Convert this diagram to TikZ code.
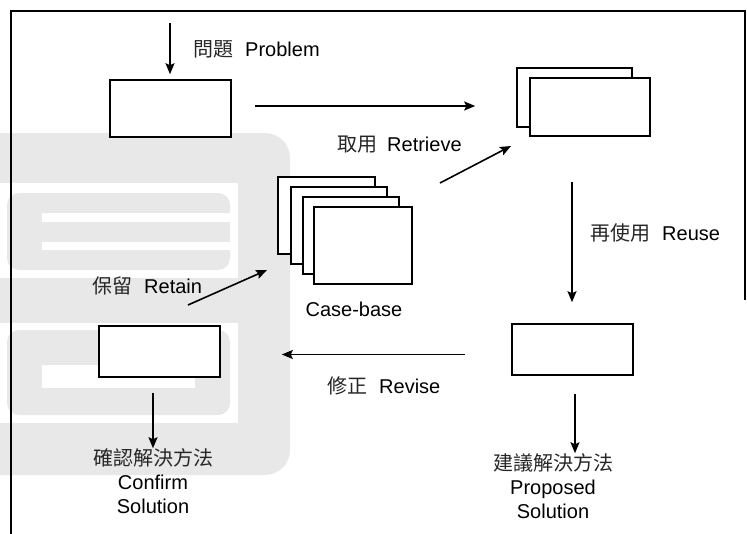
\documentclass[tikz,border=0pt]{standalone}
\usepackage{fontspec}
\setmainfont{Liberation Sans}
\newfontfamily\cjk{Noto Sans CJK TC}
\usetikzlibrary{arrows.meta}
\definecolor{wm}{gray}{0.91}
\tikzset{
  box/.style={draw=black, line width=1.6pt, fill=white, inner sep=0pt},
  arr/.style={line width=1.6pt, -{Stealth[length=11pt,width=9pt,inset=2pt]}},
  lbl/.style={inner sep=0pt, font=\fontsize{20}{24}\selectfont, text=black},
  frame/.style={line width=1.3pt},
}
\newcommand{\zh}[1]{{\cjk\color{black!85}#1}}
\begin{document}
\begin{tikzpicture}[x=1pt,y=-1pt]
\useasboundingbox (0,0) rectangle (747,533);
% watermark
\fill[wm, rounded corners=25pt] (-40,133) rectangle (290,475);
\fill[white] (-5,183) rectangle (238,278);
\fill[white] (-5,323) rectangle (238,423);
\fill[wm, rounded corners=12pt] (7,193) rectangle (230,270);
\fill[wm, rounded corners=12pt] (7,330) rectangle (230,415);
\fill[white] (42,213) rectangle (231,222);
\fill[white] (42,242) rectangle (231,250);
\fill[white] (42,365) rectangle (195,388);
% frame
\draw[frame] (11,540) -- (11,11) -- (745,11) -- (745,300);
% boxes
\node[box, minimum width=121pt, minimum height=57pt] (prob) at (170.5,108.5) {};
\node[box, minimum width=115pt, minimum height=59pt] (retb) at (574.5,97.5) {};
\node[box, minimum width=120pt, minimum height=58pt] (retf) at (590,107) {};
\node[box, minimum width=97pt, minimum height=77pt] (cb1) at (326.5,215.5) {};
\node[box, minimum width=96pt, minimum height=77pt] (cb2) at (339,225.5) {};
\node[box, minimum width=96pt, minimum height=77pt] (cb3) at (351,235.5) {};
\node[box, minimum width=98pt, minimum height=77pt] (cb4) at (363,245.5) {};
\node[box, minimum width=121pt, minimum height=51pt] (prop) at (572.5,349.5) {};
\node[box, minimum width=121pt, minimum height=51pt] (conf) at (159.5,351.5) {};
% labels
\node[lbl, anchor=west] (lprob) at (193,49) {\zh{問題}\hspace{12pt}Problem};
\node[lbl, anchor=west] (lret) at (337,145) {\zh{取用}\hspace{10pt}Retrieve};
\node[lbl, anchor=west] (lreuse) at (590,233) {\zh{再使用}\hspace{12pt}Reuse};
\node[lbl, anchor=west] (lrev) at (327,386) {\zh{修正}\hspace{12pt}Revise};
\node[lbl, anchor=west] (lretain) at (92,286) {\zh{保留}\hspace{12pt}Retain};
\node[lbl] (lcb) at (354,309) {Case-base};
\node[lbl, align=center] (lprop) at (553,486) {\zh{建議解決方法}\\Proposed\\Solution};
\node[lbl, align=center] (lconf) at (153,481) {\zh{確認解決方法}\\Confirm\\Solution};
% coordinates
\coordinate (pin) at (170,23);
\coordinate (cbout) at (440,183);
\coordinate (retin) at (511,146);
\coordinate (reusein) at (572,182);
\coordinate (propout) at (575,394);
\coordinate (confout) at (153,393);
\coordinate (retainout) at (188,305);
\coordinate (retainin) at (267,270);
% connectors
\draw[arr, shorten >=5pt] (pin) -- (pin |- prob.north);
\draw[arr, shorten <=23pt, shorten >=41pt] ([yshift=2.5pt]prob.east) -- ([yshift=2.5pt]prob.east -| retb.west);
\draw[arr] (cbout) -- (retin);
\draw[arr, shorten >=21pt] (reusein) -- (reusein |- prop.north);
\draw[arr] (propout) -- (propout |- lprop.north);
\draw[arr, shorten <=46pt, shorten >=61pt] ([yshift=-5pt]prop.west) -- ([yshift=-5pt]prop.west -| conf.east);
\draw[arr] (confout) -- (confout |- lconf.north);
\draw[arr] (retainout) -- (retainin);
\end{tikzpicture}
\end{document}
